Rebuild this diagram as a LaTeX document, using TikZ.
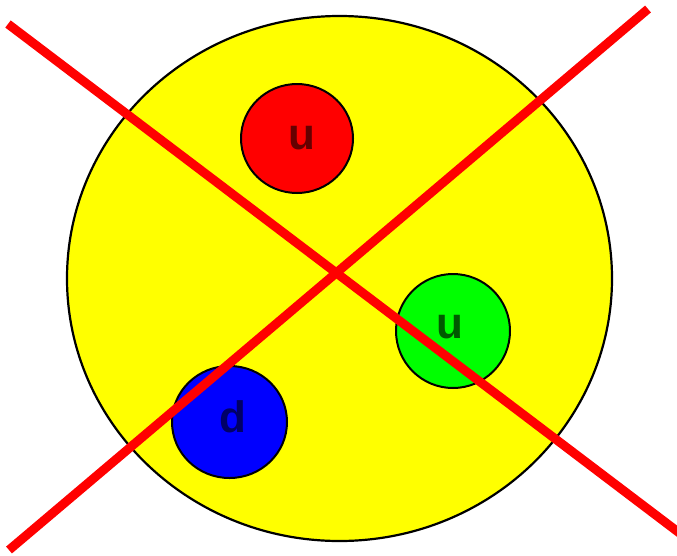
\documentclass[tikz,border=0pt]{standalone}
\usepackage{fontspec}
\setmainfont{Liberation Sans}
\usetikzlibrary{shapes.geometric}
\definecolor{pyellow}{RGB}{255,255,0}
\definecolor{qred}{RGB}{255,0,0}
\definecolor{qgreen}{RGB}{0,255,0}
\definecolor{qblue}{RGB}{0,0,255}
\tikzset{
  proton/.style={ellipse, draw=black, line width=2.2pt, fill=pyellow, inner sep=0pt},
  quark/.style={ellipse, draw=black, line width=2pt, inner sep=0pt},
  qlabel/.style={inner sep=0pt, font=\bfseries\fontsize{44}{44}\selectfont},
  cross/.style={draw=qred, line width=9pt, line cap=butt}
}
\begin{document}
\begin{tikzpicture}[x=1pt,y=-1pt]
\useasboundingbox (0,0) rectangle (677,555);
\node[proton, minimum width=545pt, minimum height=525pt] (P) at (339.5,278.5) {};
\node[quark, fill=qred, minimum width=112pt, minimum height=109pt] (Q1) at (297,138.5) {};
\node[quark, fill=qgreen, minimum width=114pt, minimum height=114pt] (Q2) at (453,331) {};
\node[quark, fill=qblue, minimum width=115pt, minimum height=112pt] (Q3) at (229.5,422) {};
\node[qlabel, text=qred!40!black] (L1) at (301.5,138) {u};
\node[qlabel, text=qgreen!35!black] (L2) at (450,327) {u};
\node[qlabel, text=qblue!40!black] (L3) at (232.5,417) {d};
\coordinate (A1) at (8,24);
\coordinate (A2) at (690,541);
\coordinate (B1) at (9,550);
\coordinate (B2) at (648,9);
\draw[cross] (A1) -- (A2);
\draw[cross] (B1) -- (B2);
\end{tikzpicture}
\end{document}
